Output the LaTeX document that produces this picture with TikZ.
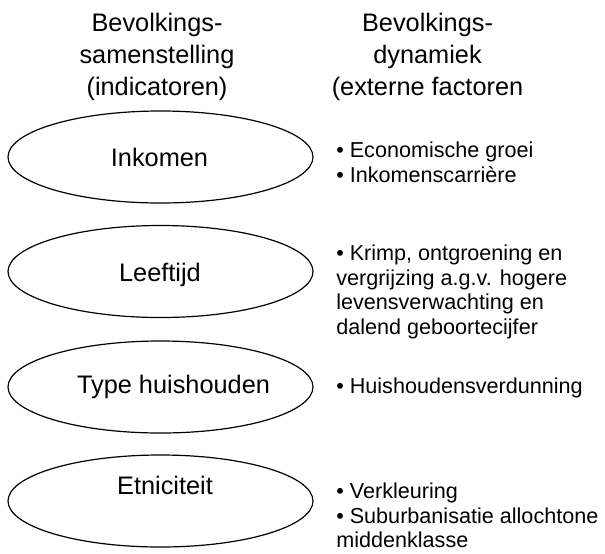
\documentclass[tikz,border=0pt]{standalone}
\usepackage{fontspec}
\setmainfont{Liberation Sans}
\usetikzlibrary{shapes.geometric}

\begin{document}
\begin{tikzpicture}[x=0.75pt, y=-0.75pt,
    ell/.style={draw, ellipse, line width=0.9pt, minimum width=228.75pt, minimum height=69pt, inner sep=0pt},
    lbl/.style={font=\fontsize{19}{24}\selectfont, inner sep=0pt, text height=13.6pt, text depth=0pt},
    head/.style={font=\fontsize{19}{24}\selectfont, align=center, anchor=north, inner sep=0pt},
    item/.style={font=\fontsize{16.2}{18.4}\selectfont, align=left, anchor=north west, inner sep=0pt}]
    \useasboundingbox (0,0) rectangle (605,553);

    % Headers
    \node[head] (h1) at (157,13) {Bevolkings-\\samenstelling\\(indicatoren)};
    \node[head] (h2) at (427.5,13) {Bevolkings-\\dynamiek\\(externe factoren};

    % Indicators
    \node[ell] (e1) at (160.5,157) {};
    \node[ell] (e2) at (160.5,271.5) {};
    \node[ell] (e3) at (160.5,387) {};
    \node[ell] (e4) at (160.5,501) {};

    \node[lbl] (t1) at (159.5,157) {Inkomen};
    \node[lbl] (t2) at (160,272) {Leeftijd};
    \node[lbl] (t3) at (173.5,384) {Type huishouden};
    \node[lbl] (t4) at (165,485) {Etniciteit};

    % External factors
    \node[item] (f1) at (336,142) {• Economische groei\\• Inkomenscarrière};
    \node[item] (f2) at (336,245) {• Krimp, ontgroening en\\vergrijzing a.g.v. hogere\\levensverwachting en\\dalend geboortecijfer};
    \node[item] (f3) at (336,378) {• Huishoudensverdunning};
    \node[item] (f4) at (336,483) {• Verkleuring\\• Suburbanisatie allochtone\\middenklasse};
\end{tikzpicture}
\end{document}
